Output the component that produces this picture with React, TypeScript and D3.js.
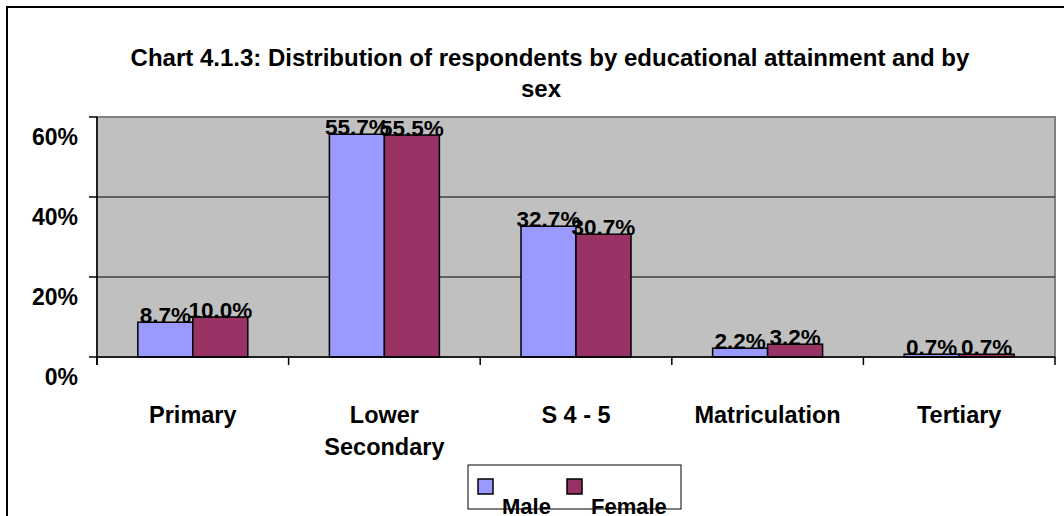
import { useEffect, useRef } from 'react';
import * as d3 from 'd3';

const categories = ['Primary', 'Lower Secondary', 'S 4 - 5', 'Matriculation', 'Tertiary'];
const categoryLines = [['Primary'], ['Lower', 'Secondary'], ['S 4 - 5'], ['Matriculation'], ['Tertiary']];
const seriesNames = ['Male', 'Female'];
const maleValues = [8.7, 55.7, 32.7, 2.2, 0.7];
const femaleValues = [10.0, 55.5, 30.7, 3.2, 0.7];
const yTicks = [0, 20, 40, 60];
const colors = ['#9999FF', '#993366'];

const FONT = 'Arial, "Liberation Sans", sans-serif';

const App = () => {
  const svgRef = useRef<SVGSVGElement>(null);

  useEffect(() => {
    const svg = d3.select(svgRef.current);
    svg.selectAll('*').remove();

    const plot = { left: 97, right: 1055, top: 117, bottom: 357 };

    // outer chart frame (extends past the picture)
    svg
      .append('rect')
      .attr('x', 7)
      .attr('y', 7)
      .attr('width', 1200)
      .attr('height', 700)
      .attr('fill', '#fff')
      .attr('stroke', '#000')
      .attr('stroke-width', 2);

    // title
    const title = svg
      .append('text')
      .attr('y', 66)
      .attr('text-anchor', 'middle')
      .attr('font-family', FONT)
      .attr('font-size', '24px')
      .attr('font-weight', 'bold')
      .attr('fill', '#000');
    title.append('tspan').attr('x', 550).text('Chart 4.1.3: Distribution of respondents by educational attainment and by');
    title.append('tspan').attr('x', 541).attr('dy', 31).text('sex');

    const x0 = d3.scaleBand().domain(categories).range([plot.left, plot.right]).paddingInner(0).paddingOuter(0);
    const x1 = d3.scaleBand().domain(seriesNames).range([0, x0.bandwidth()]).paddingInner(0).paddingOuter(0.742);
    const y = d3.scaleLinear().domain([0, 60]).range([plot.bottom, plot.top]);

    // plot background
    svg
      .append('rect')
      .attr('x', plot.left)
      .attr('y', plot.top)
      .attr('width', plot.right - plot.left)
      .attr('height', plot.bottom - plot.top)
      .attr('fill', '#C0C0C0')
      .attr('stroke', '#808080')
      .attr('stroke-width', 2);

    // gridlines
    svg
      .append('g')
      .selectAll('line')
      .data(yTicks.filter((t) => t > 0 && t < 60))
      .join('line')
      .attr('x1', plot.left)
      .attr('x2', plot.right)
      .attr('y1', (d) => y(d))
      .attr('y2', (d) => y(d))
      .attr('stroke', '#000')
      .attr('stroke-width', 1);

    // bars
    const series = [maleValues, femaleValues];
    series.forEach((values, si) => {
      svg
        .append('g')
        .selectAll('rect')
        .data(values)
        .join('rect')
        .attr('x', (_, i) => (x0(categories[i]) as number) + (x1(seriesNames[si]) as number))
        .attr('y', (d) => y(d))
        .attr('width', x1.bandwidth())
        .attr('height', (d) => plot.bottom - y(d))
        .attr('fill', colors[si])
        .attr('stroke', '#000')
        .attr('stroke-width', 1.5);
    });

    // data labels
    series.forEach((values, si) => {
      svg
        .append('g')
        .selectAll('text')
        .data(values)
        .join('text')
        .attr('x', (_, i) => (x0(categories[i]) as number) + (x1(seriesNames[si]) as number) + x1.bandwidth() / 2)
        .attr('y', (d) => y(d) + 1)
        .attr('text-anchor', 'middle')
        .attr('font-family', FONT)
        .attr('font-size', '22.5px')
        .attr('font-weight', 'bold')
        .attr('fill', '#000')
        .text((d) => `${d.toFixed(1)}%`);
    });

    // y axis
    const yAxis = svg.append('g');
    yAxis
      .append('line')
      .attr('x1', plot.left)
      .attr('x2', plot.left)
      .attr('y1', plot.top)
      .attr('y2', plot.bottom + 8)
      .attr('stroke', '#000')
      .attr('stroke-width', 1.5);
    yAxis
      .selectAll('line.tick')
      .data(yTicks)
      .join('line')
      .attr('class', 'tick')
      .attr('x1', plot.left - 8)
      .attr('x2', plot.left)
      .attr('y1', (d) => y(d))
      .attr('y2', (d) => y(d))
      .attr('stroke', '#000')
      .attr('stroke-width', 1.5);
    yAxis
      .selectAll('text')
      .data(yTicks)
      .join('text')
      .attr('x', 78)
      .attr('y', (d) => y(d) + 28)
      .attr('text-anchor', 'end')
      .attr('font-family', FONT)
      .attr('font-size', '23px')
      .attr('font-weight', 'bold')
      .attr('fill', '#000')
      .text((d) => `${d}%`);

    // x axis
    const xAxis = svg.append('g');
    xAxis
      .append('line')
      .attr('x1', plot.left)
      .attr('x2', plot.right)
      .attr('y1', plot.bottom)
      .attr('y2', plot.bottom)
      .attr('stroke', '#000')
      .attr('stroke-width', 1.5);
    const boundaries = [...categories.map((c) => x0(c) as number), plot.right];
    xAxis
      .selectAll('line.tick')
      .data(boundaries)
      .join('line')
      .attr('class', 'tick')
      .attr('x1', (d) => d)
      .attr('x2', (d) => d)
      .attr('y1', plot.bottom)
      .attr('y2', plot.bottom + 8)
      .attr('stroke', '#000')
      .attr('stroke-width', 1.5);
    categories.forEach((c, i) => {
      const t = xAxis
        .append('text')
        .attr('text-anchor', 'middle')
        .attr('font-family', FONT)
        .attr('font-size', '23.5px')
        .attr('font-weight', 'bold')
        .attr('fill', '#000')
        .attr('y', 423);
      categoryLines[i].forEach((line, li) => {
        t.append('tspan')
          .attr('x', (x0(c) as number) + x0.bandwidth() / 2)
          .attr('dy', li === 0 ? 0 : 32)
          .text(line);
      });
    });

    // legend
    const legend = svg.append('g');
    legend
      .append('rect')
      .attr('x', 468)
      .attr('y', 465)
      .attr('width', 213)
      .attr('height', 44)
      .attr('fill', '#fff')
      .attr('stroke', '#000')
      .attr('stroke-width', 1);
    const legendX = [478, 567];
    seriesNames.forEach((name, i) => {
      legend
        .append('rect')
        .attr('x', legendX[i])
        .attr('y', 479)
        .attr('width', 15)
        .attr('height', 15)
        .attr('fill', colors[i])
        .attr('stroke', '#000')
        .attr('stroke-width', 1.5);
      legend
        .append('text')
        .attr('x', legendX[i] + 24)
        .attr('y', 514)
        .attr('font-family', FONT)
        .attr('font-size', '22px')
        .attr('font-weight', 'bold')
        .attr('fill', '#000')
        .text(name);
    });
  }, []);

  return (
    <svg
      ref={svgRef}
      width={1064}
      height={516}
      style={{ position: 'absolute', left: 0, top: 0, background: '#fff' }}
    ></svg>
  );
};

export default App;
